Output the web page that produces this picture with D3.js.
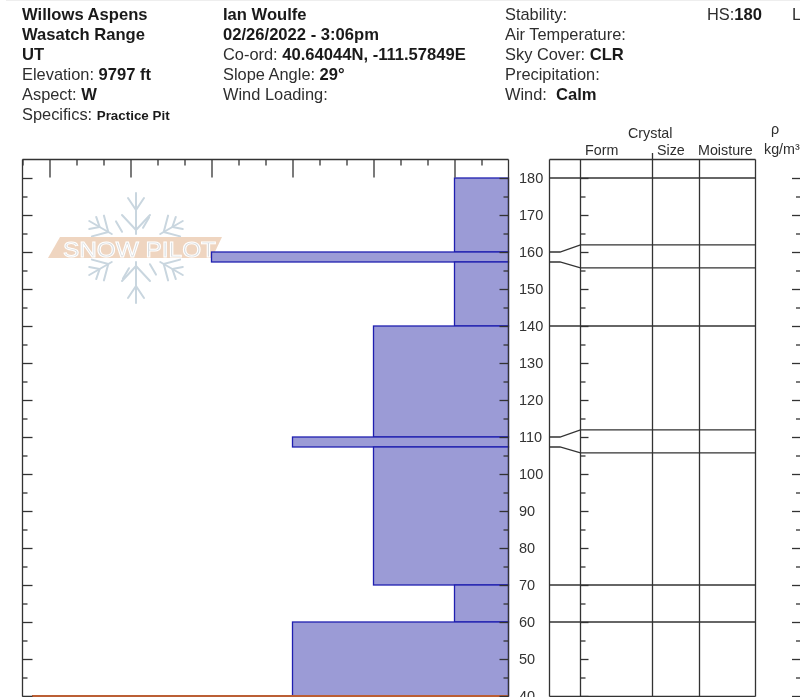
<!DOCTYPE html>
<html><head><meta charset="utf-8">
<script src="https://cdn.jsdelivr.net/npm/d3@7/dist/d3.min.js"></script>
<style>
html,body{margin:0;padding:0;background:#fff;overflow:hidden}
svg{display:block;filter:blur(0.4px)}
text{font-family:"Liberation Sans",Arial,sans-serif;fill:#2e2e2e}
.b{font-weight:bold;fill:#1a1a1a}
</style></head><body><div id="c"></div>
<script>
// Layers: top / bottom height (cm) and hand hardness index
const layerTop    = [180, 160, 157.3, 140, 110, 107.3, 70, 60];
const layerBottom = [160, 157.3, 140, 110, 107.3, 70, 60, 40];
const layerHard   = [2, 11, 2, 5, 8, 5, 2, 8];
// Right table: boundary height on the axis side and its spread height in the table
const boundaryAxis  = [180, 160, 157.3, 140, 110, 107.3, 70, 60];
const boundaryTable = [180, 161.9, 155.7, 140, 111.9, 105.7, 70, 60];
const yLabels = [180,170,160,150,140,130,120,110,100,90,80,70,60,50,40];
const yMinor  = [175,165,155,145,135,125,115,105,95,85,75,65,55,45];
const hardMajor = [2,5,8,11,14,17];
const hardMinor = [1,3,4,6,7,9,10,12,13,15,16,18];
const headerLeft = [["", "Willows Aspens"],["", "Wasatch Range"],["", "UT"],["Elevation: ","9797 ft"],["Aspect: ","W"],["Specifics: ","Practice Pit"]];
const headerMid = [["", "Ian Woulfe"],["", "02/26/2022 - 3:06pm"],["Co-ord: ","40.64044N, -111.57849E"],["Slope Angle: ","29°"],["Wind Loading:",""]];
const headerRight = [["Stability:",""],["Air Temperature:",""],["Sky Cover: ","CLR"],["Precipitation:",""],["Wind:\u00a0\u00a0","Calm"]];

const W=800,H=697;
const svg=d3.select("#c").append("svg").attr("width",W).attr("height",H);
const y=d3.scaleLinear().domain([180,40]).range([178,696]);
const x=d3.scaleLinear().domain([0,18]).range([508.5,22.5]);
const ink="#333333";

// page strip
svg.append("rect").attr("x",6).attr("y",0).attr("width",794).attr("height",1).attr("fill","#eeeeee");

// header
function block(rows,x0){
  rows.forEach((r,i)=>{
    const t=svg.append("text").attr("x",x0).attr("y",20+i*20).attr("font-size",16.4);
    if(r[0]) t.append("tspan").text(r[0]);
    if(r[1]) t.append("tspan").attr("class","b").attr("font-size",r[1]==="Practice Pit"?13.4:16.6).text(r[1]);
  });
}
block(headerLeft,22);block(headerMid,223);block(headerRight,505);
const hs=svg.append("text").attr("x",707).attr("y",20).attr("font-size",16.4);
hs.append("tspan").text("HS:");hs.append("tspan").attr("class","b").attr("font-size",16.6).text("180");
svg.append("text").attr("x",792).attr("y",20).attr("font-size",16.4).text("L");

// watermark
const wm=svg.append("g").attr("transform","translate(136,248)");
const flake=wm.append("g").attr("stroke","#c9d6df").attr("stroke-width",2).attr("fill","none").attr("stroke-linecap","round");
d3.range(6).forEach(i=>{
  const a=flake.append("g").attr("transform",`rotate(${i*60})`);
  if(i%3===0){
    a.append("path").attr("d","M0,-14V-55");
    a.append("path").attr("d","M-14,-33L0,-18L14,-33");
    a.append("path").attr("d","M-8,-50L0,-38L8,-50");
  } else {
    a.append("path").attr("d","M0,-28V-54");
    a.append("path").attr("d","M-12,-44L0,-32L12,-44");
    a.append("path").attr("d","M-7,-50L0,-42L7,-50");
  }
  const s=flake.append("g").attr("transform",`rotate(${i*60+30})`);
  s.append("path").attr("d","M-4,-33L-4,-21");
});
wm.append("path").attr("d","M-76,-11H86L76,10H-88Z").attr("fill","#efd5c0");
wm.append("text").attr("x",-73).attr("y",8.5).attr("textLength",153).attr("lengthAdjust","spacingAndGlyphs")
  .attr("font-size",22).style("fill","#d9dde0").style("stroke","#ffffff").style("stroke-width",1).text("SNOW PILOT");

// layers
const idx=d3.range(layerTop.length);
svg.append("g").selectAll("rect").data(idx).join("rect")
  .attr("x",i=>x(layerHard[i])).attr("y",i=>y(layerTop[i]))
  .attr("width",i=>x(0)-x(layerHard[i])).attr("height",i=>y(layerBottom[i])-y(layerTop[i]))
  .attr("fill","#9b9bd6").attr("stroke","#1f1fb0").attr("stroke-width",1.3);
// ground line
svg.append("line").attr("x1",32).attr("x2",x(0)).attr("y1",y(40)).attr("y2",y(40)).attr("stroke","#bb5f35").attr("stroke-width",2);

function axisG(gen,tx,ty){
  const g=svg.append("g").attr("transform",`translate(${tx},${ty})`).call(gen);
  g.select(".domain").remove();
  g.selectAll("line").attr("stroke",ink).attr("stroke-width",1.3);
  g.selectAll("text").remove();
  return g;
}
// frame
const frame=(x1,y1,x2,y2)=>svg.append("line").attr("x1",x1).attr("y1",y1).attr("x2",x2).attr("y2",y2).attr("stroke",ink).attr("stroke-width",1.3);
const yTop=159.5,yBot=696.5;
// top hardness ticks
axisG(d3.axisBottom(x).tickValues(hardMajor).tickSize(18),0,yTop);
axisG(d3.axisBottom(x).tickValues(hardMinor).tickSize(6),0,yTop);
// left / right ticks
axisG(d3.axisRight(y).tickValues(yLabels).tickSize(10),22.5,0);
axisG(d3.axisRight(y).tickValues(yMinor).tickSize(5),22.5,0);
axisG(d3.axisLeft(y).tickValues(yLabels).tickSize(9),508.5,0);
axisG(d3.axisLeft(y).tickValues(yMinor).tickSize(5),508.5,0);
frame(22.5,yTop,508.5,yTop);frame(22.5,yTop,22.5,yBot);frame(508.5,yTop,508.5,yBot);
frame(22.5,yBot,32,yBot);

// height labels
svg.append("g").attr("transform","translate(519,0)")
  .call(d3.axisRight(y).tickValues(yLabels).tickSize(0).tickPadding(0))
  .call(g=>g.select(".domain").remove())
  .call(g=>g.selectAll("text").attr("font-family",null).attr("font-size",14.5).style("fill","#333"));

// table
const cols=[549.5,580.5,652.5,699.5,755.5];
cols.forEach((c,i)=>frame(c,i===2?153:yTop,c,yBot));
frame(cols[0],yTop,cols[4],yTop);frame(cols[0],yBot,cols[4],yBot);
axisG(d3.axisRight(y).tickValues(yLabels).tickSize(8),580.5,0);
axisG(d3.axisRight(y).tickValues(yMinor).tickSize(5),580.5,0);
axisG(d3.axisLeft(y).tickValues(yLabels).tickSize(8),800,0);
axisG(d3.axisLeft(y).tickValues(yMinor).tickSize(4),800,0);
const lineGen=d3.line();
svg.append("g").selectAll("path").data(idx).join("path")
  .attr("d",i=>lineGen([[cols[0],y(boundaryAxis[i])],[560,y(boundaryAxis[i])],[cols[1],y(boundaryTable[i])],[cols[4],y(boundaryTable[i])]]))
  .attr("fill","none").attr("stroke",ink).attr("stroke-width",1.3);

// table heads
[["Form",585,155],["Crystal",628,138],["Size",657,155],["Moisture",698,155],["ρ",771,134],["kg/m³",764,154]].forEach(d=>{
  svg.append("text").attr("x",d[1]).attr("y",d[2]).attr("font-size",14.3).text(d[0]);
});
</script></body></html>
